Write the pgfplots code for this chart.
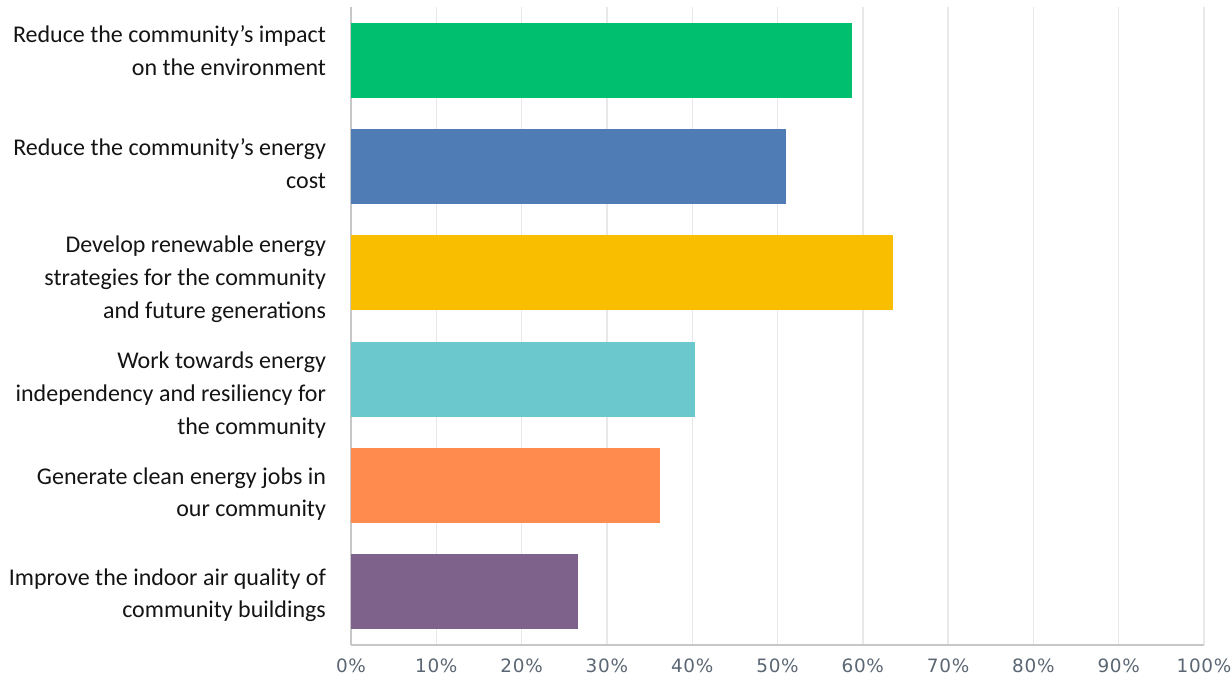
\documentclass[border=0pt]{standalone}
\usepackage{pgfplots}
\pgfplotsset{compat=1.18}
\usepackage{fontspec}
\setmainfont{Carlito}
\newfontfamily\tickfont[LetterSpace=4]{DejaVu Sans}
\definecolor{cgreen}{HTML}{00BF6F}
\definecolor{cblue}{HTML}{507CB6}
\definecolor{cyellow}{HTML}{F9BE00}
\definecolor{cteal}{HTML}{6BC8CD}
\definecolor{corange}{HTML}{FF8B4F}
\definecolor{cpurple}{HTML}{7F628B}
\definecolor{ctick}{HTML}{5A6673}
\begin{document}
\begin{tikzpicture}
\useasboundingbox (0,0) rectangle (615.5pt,342.5pt);
\begin{axis}[
  at={(175.5pt,20pt)}, anchor=south west,
  scale only axis, width=426.5pt, height=319pt,
  xmin=0, xmax=100, ymin=-0.5, ymax=5.5,
  y dir=reverse,
  xbar, bar shift=0pt, bar width=0.705,
  axis x line*=bottom, axis y line*=left,
  axis line style={draw=black!22, line width=0.8pt},
  xtick={0,10,...,100},
  xticklabel={\pgfmathprintnumber{\tick}\%},
  /pgf/number format/assume math mode=true,
  xticklabel style={font=\tickfont\fontsize{9.2}{10}\selectfont, text=ctick, yshift=-3.2pt},
  xmajorgrids, major grid style={draw=black!9, line width=0.7pt},
  major tick length=0pt,
  ytick={-0.088,0.975,2.059,3.148,4.08,5.033},
  yticklabels={
    {Reduce the community’s impact\\on the environment},
    {Reduce the community’s energy\\cost},
    {Develop renewable energy\\strategies for the community\\and future generations},
    {Work towards energy\\independency and resiliency for\\the community},
    {Generate clean energy jobs in\\our community},
    {Improve the indoor air quality of\\community buildings}},
  yticklabel style={align=right, font=\fontsize{12}{16.35}\selectfont, text=black!92, xshift=-9pt},
  clip=false,
]
\addplot[fill=cgreen, draw=none] coordinates {(58.7,0)};
\addplot[fill=cblue, draw=none] coordinates {(51.0,1)};
\addplot[fill=cyellow, draw=none] coordinates {(63.5,2)};
\addplot[fill=cteal, draw=none] coordinates {(40.3,3)};
\addplot[fill=corange, draw=none] coordinates {(36.2,4)};
\addplot[fill=cpurple, draw=none] coordinates {(26.6,5)};
\end{axis}
\end{tikzpicture}
\end{document}
